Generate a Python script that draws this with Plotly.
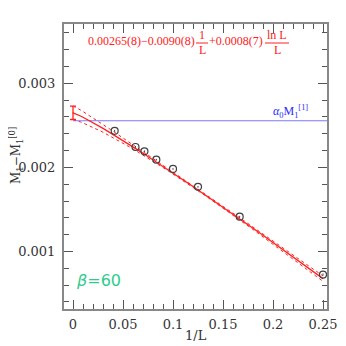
import numpy as np
import plotly.graph_objects as go

# data points, x = 1/L
L_vals = [24, 16, 14, 12, 10, 8, 6, 4]
y_vals = [0.002435, 0.002243, 0.002192, 0.002092, 0.001982, 0.001769, 0.001414, 0.000726]
y_errs = [0.000012, 0.000010, 0.000010, 0.000010, 0.000010, 0.000010, 0.000010, 0.000012]

# fit a - b/L + c lnL/L
fit_a, fit_b, fit_c = 0.00265, 0.0090, 0.0008
fit_a_err = 0.00008
# half width of the error band
band_x = [0.0, 0.025, 0.05, 0.075, 0.1, 0.125, 0.15, 0.175, 0.2, 0.225, 0.25]
band_hw = [0.00008, 0.00005, 0.00003, 0.000018, 0.000012, 0.00001, 0.00001, 0.000014, 0.00002, 0.000026, 0.000032]

alpha_m = 0.002555

W, H = 346, 346
OFF = 8  # page body margin
ML, MR, MT, MB = 56, 27, 16, 45
PW, PH = W - ML - MR, H - MT - MB

def px(xp):
    return (xp - OFF - ML) / PW

def py(yp):
    return (H - MB - (yp - OFF)) / PH

xinv = np.array([1.0 / l for l in L_vals])

def fit(x):
    x = np.asarray(x, dtype=float)
    out = fit_a - fit_b * x
    nz = x > 0
    out = out.copy()
    out[nz] += -fit_c * x[nz] * np.log(x[nz])
    return out

xs = np.linspace(0, 0.25, 101)
fs = fit(xs)
hw = np.interp(xs, band_x, band_hw)

red = "#ff2020"
fig = go.Figure()
fig.add_trace(go.Scatter(x=[0, 0.254], y=[alpha_m, alpha_m], mode="lines",
                         line=dict(color="#7a7aff", width=1.2)))
fig.add_trace(go.Scatter(x=xs, y=fs + hw, mode="lines", line=dict(color=red, width=1, dash="dot")))
fig.add_trace(go.Scatter(x=xs, y=fs - hw, mode="lines", line=dict(color=red, width=1, dash="dot")))
fig.add_trace(go.Scatter(x=xs, y=fs, mode="lines", line=dict(color=red, width=1.3)))
fig.add_trace(go.Scatter(x=[0], y=[fit_a], mode="markers", marker=dict(size=1, color=red),
                         error_y=dict(type="data", array=[fit_a_err], color=red, thickness=1.3, width=3)))
fig.add_trace(go.Scatter(x=xinv, y=y_vals, mode="markers",
                         marker=dict(symbol="circle-open", size=7, color="#404040", line=dict(width=1.2)),
                         error_y=dict(type="data", array=y_errs, color="#404040", thickness=1, width=0)))

font_serif = "DejaVu Serif"
axis_common = dict(showline=True, linecolor="#888888", linewidth=2, mirror="allticks",
                   ticks="inside", ticklen=9, tickwidth=1.2, tickcolor="#555555",
                   showgrid=False, zeroline=False, automargin=False)
fig.update_xaxes(range=[-0.009, 0.254], dtick=0.05, tick0=0,
                 minor=dict(dtick=0.01, ticks="inside", ticklen=5, tickcolor="#555555"),
                 ticklabelstandoff=2, tickfont=dict(family=font_serif, size=13, color="#333333"),
                 **axis_common)
fig.update_yaxes(range=[0.000316, 0.003706], dtick=0.001, tick0=0, tickformat=".3f",
                 minor=dict(dtick=0.0002, ticks="inside", ticklen=5, tickcolor="#555555"),
                 ticklabelstandoff=4, tickfont=dict(family=font_serif, size=13, color="#333333"),
                 **axis_common)

ann = []
fs_f = 12
def txt(t, x, y, color=red, size=fs_f, xanchor="left", family="Liberation Serif", angle=0):
    ann.append(dict(text=t, x=px(x), y=py(y), xref="paper", yref="paper", showarrow=False,
                    xanchor=xanchor, yanchor="middle", textangle=angle,
                    font=dict(family=family, size=size, color=color)))

txt("0.00265(8)−0.0090(8)", 86, 41)
txt("1", 202, 35, xanchor="center")
txt("L", 202, 50, xanchor="center")
txt("+0.0008(7)", 207, 41)
txt("ln L", 277, 35, xanchor="center")
txt("L", 277, 50, xanchor="center")
txt("<i>α</i><sub>0</sub>M<sub>1</sub><sup>[1]</sup>", 271, 112, color="#2a2aff", size=12)
txt("<i>β</i>=60", 74, 280, color="#2ecc8c", size=16, family="DejaVu Sans")
# axis titles
txt("1/L", 196, 335, color="#333333", size=13, xanchor="center", family=font_serif)
txt("M<sub>1</sub>−M<sub>1</sub><sup>[0]</sup>", 16, 156, color="#333333", size=12,
    xanchor="center", family=font_serif, angle=-90)

shapes = [
    dict(type="line", xref="paper", yref="paper", x0=px(196), x1=px(208), y0=py(43), y1=py(43),
         line=dict(color=red, width=1)),
    dict(type="line", xref="paper", yref="paper", x0=px(265), x1=px(289), y0=py(43), y1=py(43),
         line=dict(color=red, width=1)),
]

fig.update_layout(width=W, height=H, margin=dict(l=ML, r=MR, t=MT, b=MB),
                  plot_bgcolor="white", paper_bgcolor="white", showlegend=False,
                  annotations=ann, shapes=shapes)
fig.write_html("out.html")
